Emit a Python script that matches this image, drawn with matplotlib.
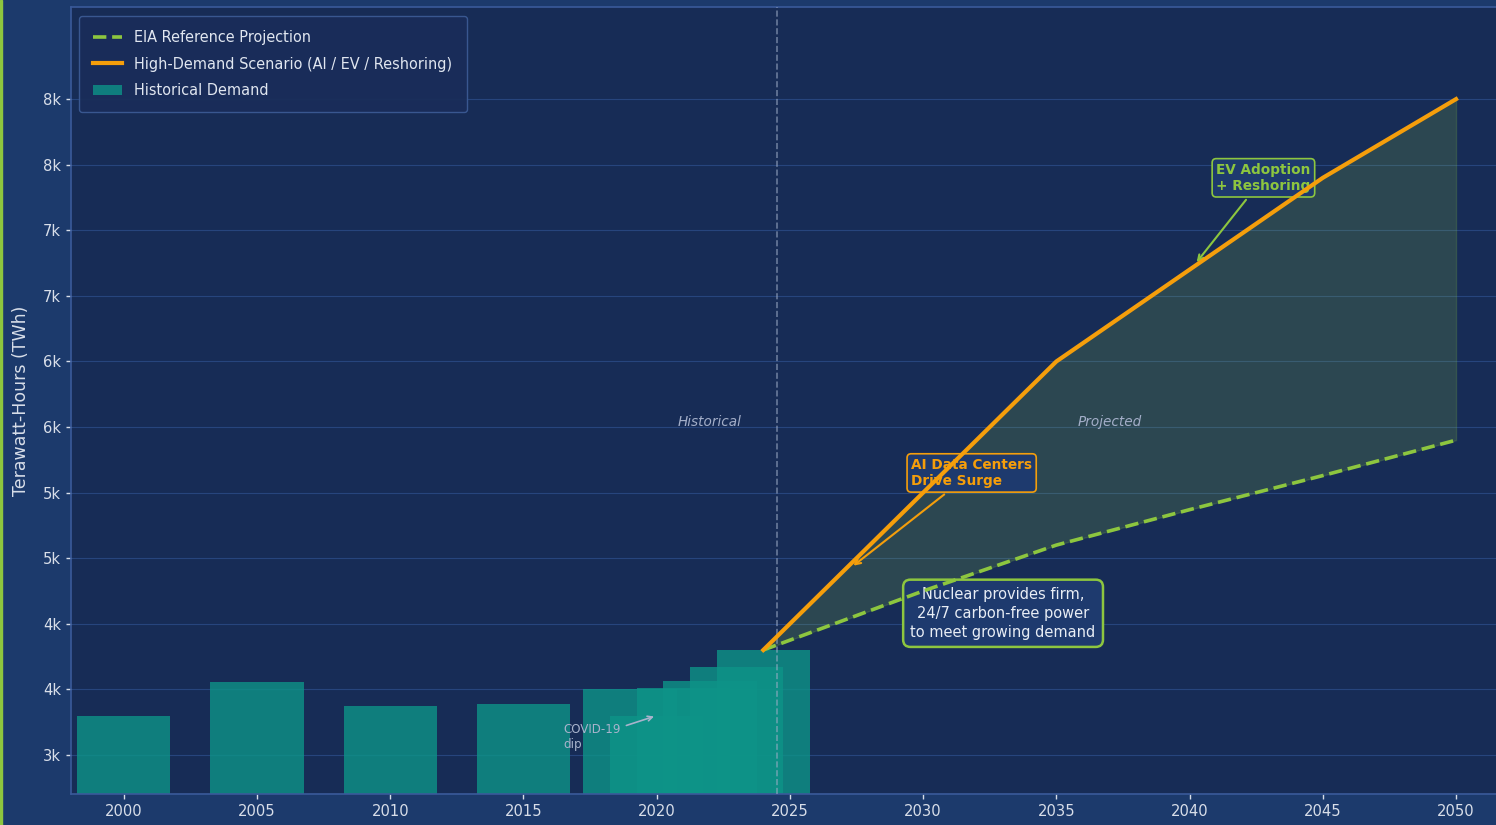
import matplotlib
matplotlib.use("Agg")
import matplotlib.pyplot as plt
from matplotlib.patches import Rectangle, Patch
from matplotlib.lines import Line2D

# ---------------- data ----------------
hist_years = [2000, 2005, 2010, 2015, 2019, 2020, 2021, 2022, 2023, 2024]
hist_twh = [3300, 3555, 3372, 3385, 3500, 3300, 3510, 3565, 3672, 3800]

proj_years = [2024, 2030, 2035, 2040, 2045, 2050]
eia_reference = [3800, 4250, 4600, 4870, 5130, 5400]
high_demand = [3800, 5000, 6000, 6700, 7400, 8000]

x_ticks = [2000, 2005, 2010, 2015, 2020, 2025, 2030, 2035, 2040, 2045, 2050]
y_ticks = [3000, 3500, 4000, 4500, 5000, 5500, 6000, 6500, 7000, 7500, 8000]
y_tick_labels = ["3k", "4k", "4k", "5k", "5k", "6k", "6k", "7k", "7k", "8k", "8k"]

# ---------------- style ----------------
FIG_BG = "#1c3a6c"
AX_BG = "#172c56"
TEAL = "#0d9488"
GREEN = "#8dc63f"
ORANGE = "#f59e0b"
TXT = "#d8dee9"
SPINE = "#3a5a9a"

W, H = 1496, 825
fig = plt.figure(figsize=(W / 100, H / 100), dpi=100, facecolor=FIG_BG)
left, right, bottom, top = 70.5, 1496, 794.3, 7.3
ax = fig.add_axes([left / W, (H - bottom) / H, (right - left) / W, (bottom - top) / H])
ax.set_facecolor(AX_BG)

# left accent strip
fig.patches.append(Rectangle((0, 0), 2.0 / W, 1, transform=fig.transFigure,
                             color=GREEN, zorder=10))

# bars
ax.bar(hist_years, hist_twh, width=3.5, color=TEAL, alpha=0.8, zorder=2,
       linewidth=0)

# projection band
ax.fill_between(proj_years, eia_reference, high_demand, color=GREEN, alpha=0.18,
                zorder=1.5)

# lines
ax.plot(proj_years, eia_reference, linestyle="--", color=GREEN, lw=2.6, zorder=5)
ax.plot(proj_years, high_demand, color=ORANGE, lw=3.0, zorder=6)

# divider
ax.axvline(2024.5, color="#a0aec8", ls="--", lw=1.2, alpha=0.6, zorder=3)

ax.text(2022, 5535, "Historical", ha="center", va="center", style="italic",
        color="#a3aec8", fontsize=9.8, zorder=4)
ax.text(2037, 5535, "Projected", ha="center", va="center", style="italic",
        color="#a3aec8", fontsize=9.8, zorder=4)

# annotations
ax.annotate("AI Data Centers\nDrive Surge", xy=(2027.3, 4430), xytext=(2029.55, 5150),
            ha="left", va="center", fontsize=9.8, fontweight="bold", color=ORANGE,
            bbox=dict(boxstyle="round,pad=0.3", fc="#1e3a6e", ec=ORANGE, lw=1.2),
            arrowprops=dict(arrowstyle="->", color=ORANGE, lw=1.5), zorder=4)

ax.annotate("EV Adoption\n+ Reshoring", xy=(2040.2, 6740), xytext=(2041, 7400),
            ha="left", va="center", fontsize=9.8, fontweight="bold", color=GREEN,
            bbox=dict(boxstyle="round,pad=0.3", fc="#1e3a6e", ec=GREEN, lw=1.2),
            arrowprops=dict(arrowstyle="->", color=GREEN, lw=1.5), zorder=4)

ax.text(2033, 4080, "Nuclear provides firm,\n24/7 carbon-free power\nto meet growing demand",
        ha="center", va="center", fontsize=10.5, color="#e8edf5", linespacing=1.32,
        bbox=dict(boxstyle="round,pad=0.5", fc="#1e3a6e", ec=GREEN, lw=1.8), zorder=4)

ax.annotate("COVID-19\ndip", xy=(2020, 3300), xytext=(2016.5, 3140),
            ha="left", va="center", fontsize=8.6, color="#a8b3cc",
            arrowprops=dict(arrowstyle="->", color="#a8b3cc", lw=1.2), zorder=4)

# axes
ax.set_xlim(1998, 2051.5)
ax.set_ylim(2700, 8700)
ax.set_xticks(x_ticks)
ax.set_xticklabels([str(x) for x in x_ticks])
ax.set_yticks(y_ticks)
ax.set_yticklabels(y_tick_labels)
ax.tick_params(colors=TXT, labelsize=10.6, length=3.5, width=1)
ax.set_ylabel("Terawatt-Hours (TWh)", fontsize=12.5, color=TXT, labelpad=9.5)

ax.yaxis.grid(True, color="#2c4c88", lw=0.8, alpha=0.8)
ax.xaxis.grid(False)
ax.set_axisbelow(True)
for s in ["left", "bottom", "top"]:
    ax.spines[s].set_color(SPINE)
    ax.spines[s].set_linewidth(1.2)
ax.spines["right"].set_visible(False)

# legend
handles = [
    Line2D([0], [0], color=GREEN, lw=2.6, linestyle="--"),
    Line2D([0], [0], color=ORANGE, lw=3.0),
    Patch(facecolor=TEAL, alpha=0.8, edgecolor="none"),
]
labels = ["EIA Reference Projection", "High-Demand Scenario (AI / EV / Reshoring)",
          "Historical Demand"]
leg = ax.legend(handles, labels, loc="upper left", fontsize=10.45,
                facecolor="#1a2d5a", edgecolor="#3b5a94", framealpha=0.95,
                borderaxespad=0.58, borderpad=1.0, labelspacing=0.78,
                handlelength=2.0)
for t in leg.get_texts():
    t.set_color("#e0e6f0")

fig.savefig("out.png", dpi=100, facecolor=FIG_BG)
